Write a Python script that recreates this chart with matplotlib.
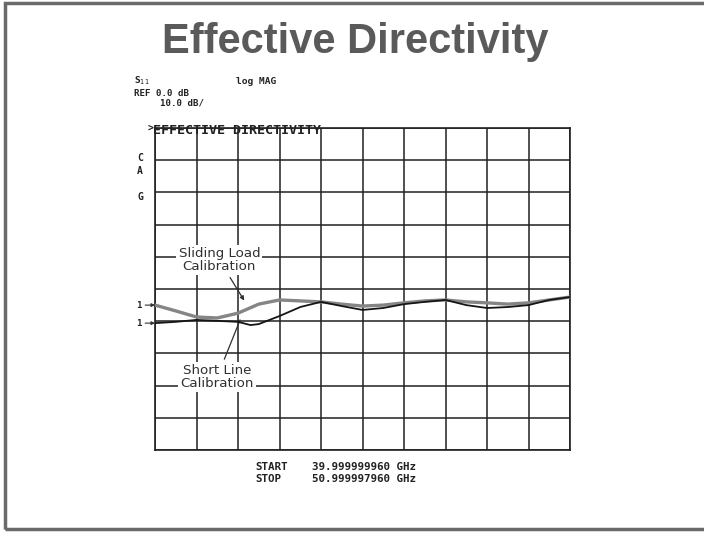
import numpy as np
import matplotlib.pyplot as plt
from matplotlib.patches import Rectangle

# frequency (GHz) and effective directivity (dB)
freq_sliding = [40.0, 40.5, 41.0, 41.5, 42.0, 42.5, 43.0, 43.5, 44.0, 44.5,
                45.0, 45.5, 46.0, 46.5, 47.0, 47.5, 48.0, 48.5, 49.0, 49.5, 50.0]
db_sliding = [-55.0, -56.8, -58.7, -59.0, -57.5, -54.7, -53.4, -53.7, -54.0,
              -54.7, -55.3, -55.0, -54.3, -53.7, -53.4, -54.0, -54.3, -54.7,
              -54.3, -53.4, -52.5]

freq_short = [40.0, 40.5, 41.0, 41.5, 42.0, 42.3, 42.5, 43.0, 43.5, 44.0,
              44.5, 45.0, 45.5, 46.0, 46.5, 47.0, 47.5, 48.0, 48.5, 49.0,
              49.5, 50.0]
db_short = [-60.6, -60.2, -59.6, -59.9, -60.2, -61.2, -60.9, -58.4, -55.6,
            -54.0, -55.3, -56.5, -55.9, -54.7, -54.0, -53.4, -55.0, -55.9,
            -55.6, -55.0, -53.4, -52.5]

side_letters = ['C', 'A', 'G']
sweep_labels = ['START', 'STOP']
sweep_values = ['39.999999960 GHz', '50.999997960 GHz']

W, H = 704, 533
fig = plt.figure(figsize=(W / 100, H / 100), dpi=100)


def fx(px):
    return px / W


def fy(py):
    return 1 - py / H


# slide frame
fig.patches.append(Rectangle((fx(5), fy(529)), fx(720) - fx(5), fy(3) - fy(529),
                             transform=fig.transFigure, fill=False,
                             edgecolor='#6a6a6a', linewidth=2.5))

fig.text(fx(355), fy(42), 'Effective Directivity', ha='center', va='center',
         fontsize=30, fontweight='bold', color='#5a5a5a',
         family='Liberation Sans')

ax = fig.add_axes([fx(155), fy(450), fx(570) - fx(155), fy(128) - fy(450)])
ax.set_xlim(40, 50)
ax.set_ylim(-100, 0)
ax.set_xticks(np.arange(40, 51, 1))
ax.set_yticks(np.arange(-100, 1, 10))
ax.tick_params(left=False, bottom=False, labelleft=False, labelbottom=False)
ax.grid(True, color='#202020', linewidth=1.1)
for s in ax.spines.values():
    s.set_color('#202020')
    s.set_linewidth(1.2)

ax.plot(freq_sliding, db_sliding, color='#858585', linewidth=2.4, zorder=4)
ax.plot(freq_short, db_short, color='#151515', linewidth=1.3, zorder=5)

mono = dict(family='DejaVu Sans Mono', fontweight='bold', color='#222222')

# reference markers
for val in (db_sliding[0], db_short[0]):
    ax.annotate('1', xy=(40, val), xytext=(-12, 0), textcoords='offset points',
                ha='center', va='center', fontsize=6.5, annotation_clip=False,
                arrowprops=dict(arrowstyle='-|>', color='#333333', lw=0.8,
                                mutation_scale=5, shrinkA=1, shrinkB=0),
                **mono)

# instrument annotations
fig.text(fx(134), fy(81), r'S$_{11}$', fontsize=6.8, va='center', **mono)
fig.text(fx(236), fy(81), 'log MAG', fontsize=6.8, va='center', **mono)
fig.text(fx(134), fy(93), 'REF 0.0 dB', fontsize=6.6, va='center', **mono)
fig.text(fx(160), fy(103), '10.0 dB/', fontsize=6.6, va='center', **mono)
fig.text(fx(148), fy(128), '>', fontsize=7, va='center', **mono)
fig.text(fx(153), fy(131), 'EFFECTIVE DIRECTIVITY', fontsize=9.6, va='center',
         zorder=6, **mono)
for letter, py in zip(side_letters, [158, 171, 197]):
    fig.text(fx(140), fy(py), letter, fontsize=7, ha='center', va='center',
             **mono)

for label, value, py in zip(sweep_labels, sweep_values, [467, 479]):
    fig.text(fx(255), fy(py), label, fontsize=7.8, va='center', **mono)
    fig.text(fx(312), fy(py), value, fontsize=7.8, va='center', **mono)

# callouts
box = dict(facecolor='white', edgecolor='none', pad=1.5)
ax.annotate('Sliding Load\nCalibration', xy=(42.15, -53.6), xytext=(41.55, -41.0),
            ha='center', va='center', fontsize=9.6, color='#303030',
            linespacing=1.0, bbox=box,
            arrowprops=dict(arrowstyle='-|>', color='#303030', lw=0.9,
                            mutation_scale=6, shrinkA=2, shrinkB=0))
ax.annotate('Short Line\nCalibration', xy=(42.05, -59.6), xytext=(41.5, -77.3),
            ha='center', va='center', fontsize=9.6, color='#303030',
            linespacing=1.0, bbox=box,
            arrowprops=dict(arrowstyle='-', color='#303030', lw=0.9,
                            shrinkA=2, shrinkB=0))

fig.savefig('out.png', dpi=100)
